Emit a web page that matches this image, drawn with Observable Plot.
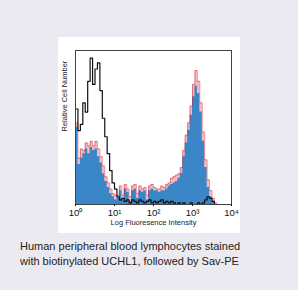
<!DOCTYPE html>
<html>
<head>
<meta charset="utf-8">
<script src="https://cdn.jsdelivr.net/npm/d3@7"></script>
<script src="https://cdn.jsdelivr.net/npm/@observablehq/plot@0.6"></script>
<style>
  html, body { margin: 0; padding: 0; }
  body { width: 298px; height: 290px; background: #eceaf1; position: relative; overflow: hidden;
         font-family: "Liberation Sans", Arial, sans-serif; }
  #panel { position: absolute; left: 58px; top: 37px; width: 182px; height: 196px; background: #fff; }
  #caption { position: absolute; left: 20px; top: 239px; font-size: 11px; line-height: 14.5px; color: #222; }
</style>
</head>
<body>
<div id="panel"></div>
<div id="caption">Human peripheral blood lymphocytes stained<br>with biotinylated UCHL1, followed by Sav-PE</div>
<script>
// 64 bins across log10 0..4 (1/16 decade each), values as % of full height
const binsPerDecade = 16;
const controlBlack = [62,48,52,66,60,80,95,78,88,92,74,56,44,33,22,14,10,5,
  3,4,2,3,1,3,2,1,3,2,1,2,3,1,2,1,2,3,1,2,1,
  2,1,0,1,0,1,0,0,1,0,0,1,0,1,3,5,4,2,0,0,0,0,0,0,0];
const stainedBlue = [50,26,30,33,36,33,37,35,36,31,27,20,15,11,7,5,3,4,
  9,3,10,8,2,9,10,4,9,8,9,3,9,10,9,9,8,9,9,10,12,
  13,14,15,17,20,31,40,48,58,70,77,72,60,41,24,11,5,2,0,0,0,0,0,0,0];
const stainedRed = [53,30,36,35,40,38,41,38,41,36,31,25,18,14,10,7,6,6,
  12,6,13,10,5,12,13,7,12,10,11,6,12,13,11,10,10,12,11,13,14,
  17,18,19,20,24,35,45,53,64,78,87,80,66,47,29,16,9,4,1,0,0,0,0,0,0];
const tickValues = [1, 10, 100, 1000, 10000];
const tickLabels = ["10\u2070", "10\u00b9", "10\u00b2", "10\u00b3", "10\u2074"];
const xLabel = "Log Fluoresence Intensity";
const yLabel = "Relative Cell Number";

const steps = arr => arr.flatMap((v, i) => [
  {x: 10 ** (i / binsPerDecade), y: v},
  {x: 10 ** ((i + 1) / binsPerDecade), y: v}
]);
const red = steps(stainedRed), blue = steps(stainedBlue), black = steps(controlBlack);

const chart = Plot.plot({
  width: 182, height: 196,
  marginLeft: 17, marginRight: 9, marginTop: 13, marginBottom: 29,
  style: {background: "transparent", fontFamily: "'Liberation Sans', Arial, sans-serif", color: "#111"},
  x: {type: "log", domain: [1, 10000]},
  y: {domain: [0, 100], axis: null},
  marks: [
    Plot.area(red, {x1: "x", y1: 0, y2: "y", fill: "#ec8a92", fillOpacity: 0.6}),
    Plot.area(blue, {x1: "x", y1: 0, y2: "y", fill: "#3b86c6"}),
    Plot.line(red, {x: "x", y: "y", stroke: "#d8232c", strokeWidth: 0.7, strokeOpacity: 0.7}),
    Plot.line(black, {x: "x", y: "y", stroke: "#111", strokeWidth: 1.2}),
    Plot.frame({stroke: "#444", strokeWidth: 1}),
    Plot.axisX({ticks: tickValues, tickFormat: d => tickLabels[tickValues.indexOf(d)], tickSize: 2, tickPadding: 3,
                fontSize: 9.5, label: null}),
    Plot.text([xLabel], {frameAnchor: "bottom", dy: 20, fontSize: 7.5, fill: "#222"}),
    Plot.text([yLabel], {frameAnchor: "left", rotate: -90, dx: -11, dy: 4, fontSize: 7.5, fill: "#222"})
  ]
});
document.getElementById("panel").appendChild(chart);
</script>
</body>
</html>
